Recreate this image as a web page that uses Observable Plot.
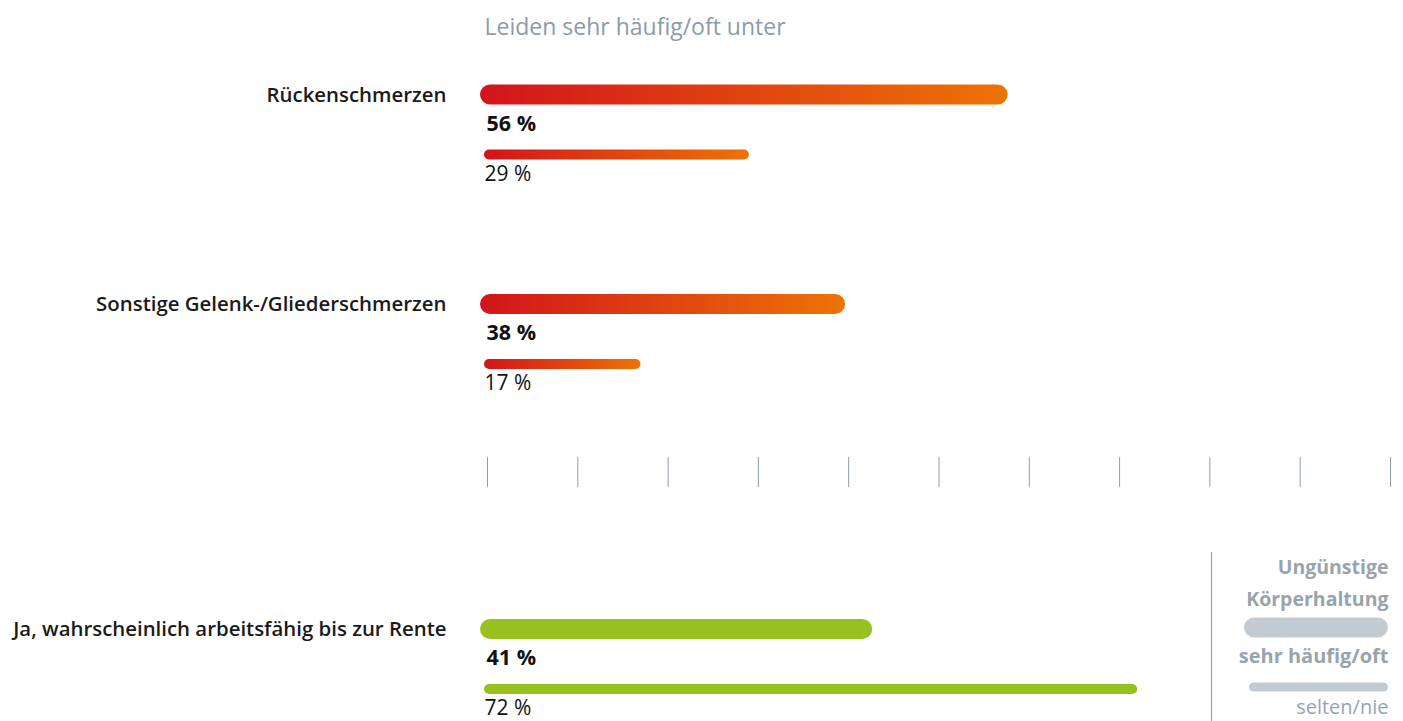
<!DOCTYPE html>
<html>
<head>
<meta charset="utf-8">
<script src="https://cdn.jsdelivr.net/npm/d3@7"></script>
<script src="https://cdn.jsdelivr.net/npm/@observablehq/plot@0.6"></script>
<style>
  html, body { margin: 0; padding: 0; background: #fff; }
  #wrap { position: relative; width: 1403px; height: 721px; overflow: hidden; }
  #legend { position: absolute; left: 1200px; top: 545px; }
  svg { font-family: "Open Sans", sans-serif; }
</style>
</head>
<body>
<div id="wrap"><div id="main"></div><div id="legend"></div></div>
<script>
// ---- data ----
const title = "Leiden sehr häufig/oft unter";
const categories = ["Rückenschmerzen", "Sonstige Gelenk-/Gliederschmerzen", "Ja, wahrscheinlich arbeitsfähig bis zur Rente"];
const sehrHaeufigOft = [56, 38, 41];
const seltenNie = [29, 17, 72];
const tickValues = [0, 10, 20, 30, 40, 50, 60, 70, 80, 90, 100];
const legendTitle = ["Ungünstige", "Körperhaltung"];
const legendLabels = ["sehr häufig/oft", "selten/nie"];

// ---- styling / layout ----
const fills = ["url(#gradRed)", "url(#gradRed)", "#96c11f"];
const groupCenter = [94.5, 304, 629];
const W = 1403, H = 721;
const font = "Open Sans, sans-serif";

const rows = categories.map((c, i) => ({
  category: c, i, high: sehrHaeufigOft[i], low: seltenNie[i], fill: fills[i],
  yc: groupCenter[i]
}));

const main = Plot.plot({
  width: W, height: H,
  margin: 0,
  x: {domain: [0, 100], range: [487, 1390], axis: null},
  y: {type: "identity", axis: null},
  marks: [
    // title
    Plot.text([title], {x: 0, y: () => 27, dx: -3, text: d => d, textAnchor: "start",
      fill: "#8c9ba6", fontSize: 23, fontFamily: font}),
    // category labels
    Plot.text(rows, {x: 0, y: "yc", dx: -41, text: "category", textAnchor: "end",
      fontWeight: 600, fontSize: 20.4, fill: "#1a1a1a", fontFamily: font}),
    // thick bars (sehr häufig/oft)
    Plot.rect(rows, {x1: 0, x2: "high", y1: d => d.yc - 10, y2: d => d.yc + 10,
      fill: "fill", rx: 10, insetLeft: -7, insetRight: -15}),
    Plot.text(rows, {x: 0, y: d => d.yc + 29, text: d => `${d.high} %`, textAnchor: "start", dx: -1,
      fontWeight: 700, fontSize: 21.5, fill: "#111", fontFamily: font}),
    // thin bars (selten/nie)
    Plot.rect(rows, {x1: 0, x2: "low", y1: d => d.yc + 55, y2: d => d.yc + 65,
      fill: "fill", rx: 5, insetLeft: -3}),
    Plot.text(rows, {x: 0, y: d => d.yc + 79, text: d => `${d.low} %`, textAnchor: "start", dx: -3,
      fontWeight: 400, fontSize: 21, fill: "#111", fontFamily: font}),
    // tick row
    Plot.ruleX(tickValues, {x: d => d, y1: 457, y2: 487, stroke: "#8f9ba6", strokeWidth: 1})
  ]
});

d3.select(main).insert("defs", ":first-child").html(`
  <linearGradient id="gradRed" x1="0" x2="1" y1="0" y2="0">
    <stop offset="0" stop-color="#d2141c"/>
    <stop offset="1" stop-color="#ee7304"/>
  </linearGradient>`);
document.getElementById("main").appendChild(main);

// ---- legend ----
const legendRows = [
  {label: legendLabels[0], h: 20, start: 44, by: 82.5, ty: 111},
  {label: legendLabels[1], h: 9, start: 49, by: 142, ty: 162}
];
const legend = Plot.plot({
  width: 203, height: 176, margin: 0,
  x: {type: "identity", axis: null},
  y: {type: "identity", axis: null},
  marks: [
    Plot.ruleX([11], {x: d => d, y1: 7, y2: 176, stroke: "#9aa6af", strokeWidth: 1.2}),
    Plot.text(legendTitle, {x: () => 188, y: (d, i) => 22 + i * 32, text: d => d, textAnchor: "end",
      fontWeight: 700, fontSize: 19.5, fill: "#98a4ad", fontFamily: font}),
    Plot.rect(legendRows.slice(0, 1), {x1: "start", x2: () => 188, y1: d => d.by - d.h / 2, y2: d => d.by + d.h / 2,
      fill: "#c2cbd1", rx: 10}),
    Plot.rect(legendRows.slice(1), {x1: "start", x2: () => 188, y1: d => d.by - d.h / 2, y2: d => d.by + d.h / 2,
      fill: "#c2cbd1", rx: 4.5}),
    Plot.text(legendRows.slice(0, 1), {x: () => 188, y: "ty", text: "label", textAnchor: "end",
      fontWeight: 700, fontSize: 20, fill: "#98a4ad", fontFamily: font}),
    Plot.text(legendRows.slice(1), {x: () => 188, y: "ty", text: "label", textAnchor: "end",
      fontWeight: 400, fontSize: 20, fill: "#98a4ad", fontFamily: font})
  ]
});
document.getElementById("legend").appendChild(legend);
</script>
</body>
</html>
